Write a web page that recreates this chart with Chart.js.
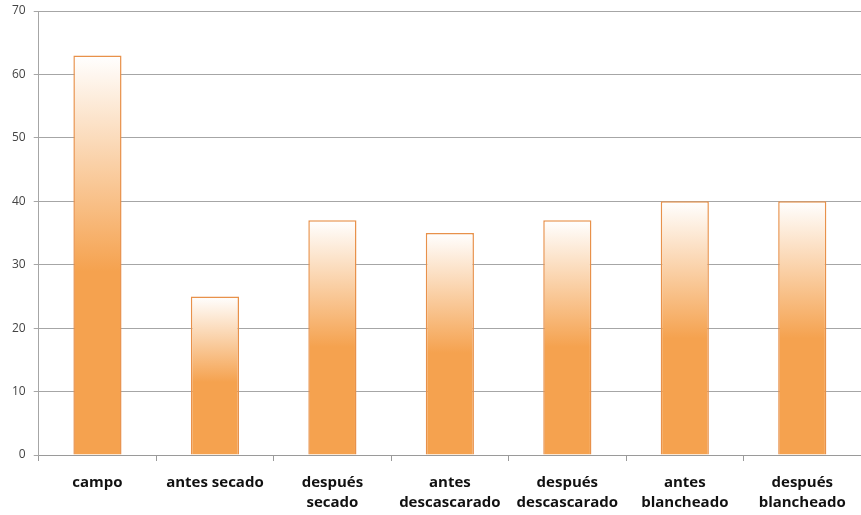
<!DOCTYPE html>
<html>
<head>
<meta charset="utf-8">
<script src="https://cdn.jsdelivr.net/npm/chart.js@4"></script>
<style>
  html, body { margin: 0; padding: 0; background: #fff; }
  #wrap { width: 861px; height: 515px; }
</style>
</head>
<body>
<div id="wrap"><canvas id="grafico" width="861" height="515"></canvas></div>
<script>
// categorias del eje x (algunas en dos líneas)
const categorias = [
  'campo',
  'antes secado',
  ['después', 'secado'],
  ['antes', 'descascarado'],
  ['después', 'descascarado'],
  ['antes', 'blancheado'],
  ['después', 'blancheado']
];
// valores
const valores = [63, 25, 37, 35, 37, 40, 40];
const ticksY = [0, 10, 20, 30, 40, 50, 60, 70];

const naranja = '#f5a24f';
const borde = '#e8914a';

// degradado por barra: naranja sólido abajo, blanco arriba
function degradado(ctx) {
  const chart = ctx.chart;
  if (!chart.chartArea) return naranja;
  const y = chart.scales.y;
  const base = y.getPixelForValue(0);
  const top = y.getPixelForValue(ctx.raw);
  const g = chart.ctx.createLinearGradient(0, base, 0, top);
  g.addColorStop(0, naranja);
  g.addColorStop(0.46, naranja);
  g.addColorStop(1, '#ffffff');
  return g;
}

new Chart(document.getElementById('grafico'), {
  type: 'bar',
  data: {
    labels: categorias,
    datasets: [{
      data: valores,
      backgroundColor: degradado,
      borderColor: borde,
      borderWidth: 1.5,
      barPercentage: 0.82,
      categoryPercentage: 0.5
    }]
  },
  options: {
    responsive: false,
    animation: false,
    layout: { padding: { top: 11, right: 0, left: 4, bottom: 0 } },
    plugins: { legend: { display: false }, tooltip: { enabled: false } },
    scales: {
      x: {
        afterFit: (s) => { s.height = 60; },
        grid: { drawOnChartArea: false, color: '#9a9a9a', tickLength: 6 },
        border: { color: '#9a9a9a' },
        ticks: {
          color: '#111',
          font: { family: 'Open Sans', size: 15, weight: 'bold', lineHeight: 1.3 },
          padding: 12,
          maxRotation: 0
        }
      },
      y: {
        min: 0,
        max: 70,
        afterBuildTicks: (s) => { s.ticks = ticksY.map(v => ({ value: v })); },
        afterFit: (s) => { s.paddingTop = 0; s.paddingBottom = 0; },
        grid: { color: '#a6a6a6', tickLength: 5 },
        border: { color: '#a6a6a6' },
        ticks: {
          color: '#444',
          font: { family: 'Open Sans', size: 12 },
          padding: 8
        }
      }
    }
  }
});
</script>
</body>
</html>
